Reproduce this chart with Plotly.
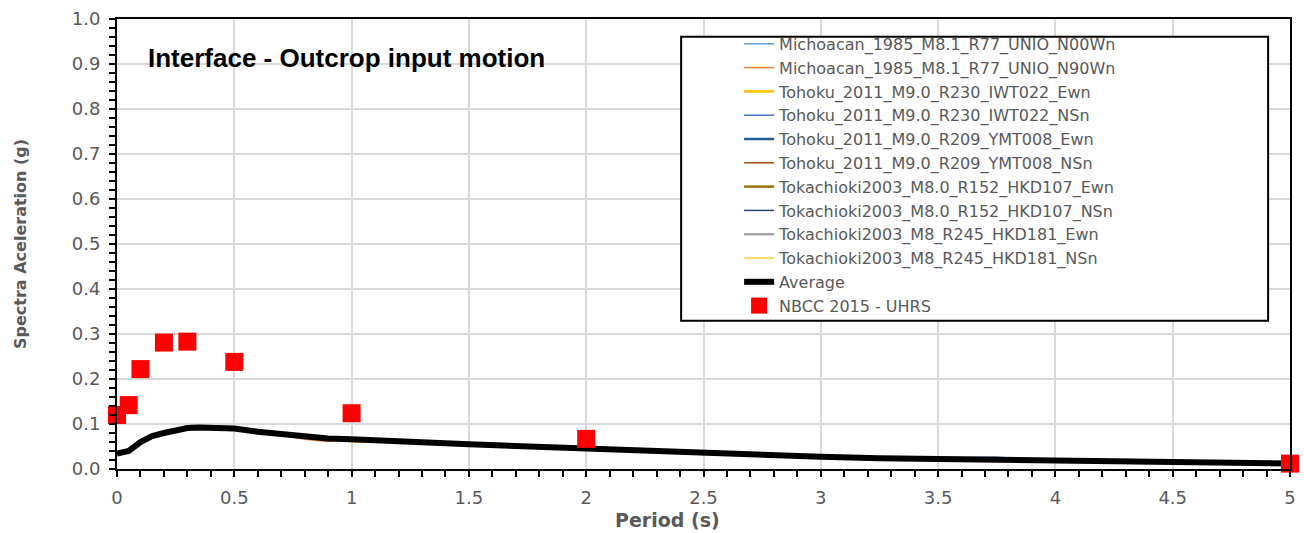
import plotly.graph_objects as go

period = [0, 0.05, 0.1, 0.15, 0.2, 0.25, 0.3, 0.35, 0.4, 0.45, 0.5, 0.6, 0.7, 0.8, 0.9,
          1.0, 1.1, 1.2, 1.3, 1.4, 1.5, 1.75, 2.0, 2.25, 2.5, 2.75, 3.0, 3.25, 3.5, 3.75,
          4.0, 4.25, 4.5, 4.75, 5.0]

mich_n00 = [0.034, 0.041, 0.061, 0.074, 0.080, 0.087, 0.092, 0.093, 0.091, 0.092, 0.090, 0.082, 0.078, 0.070, 0.069,
            0.066, 0.062, 0.060, 0.059, 0.056, 0.055, 0.051, 0.045, 0.042, 0.036, 0.033, 0.027, 0.025, 0.022, 0.021,
            0.018, 0.017, 0.016, 0.015, 0.012]
mich_n90 = [0.034, 0.040, 0.059, 0.072, 0.081, 0.085, 0.090, 0.091, 0.089, 0.090, 0.091, 0.084, 0.076, 0.066, 0.061,
            0.066, 0.064, 0.059, 0.058, 0.058, 0.054, 0.050, 0.046, 0.043, 0.037, 0.032, 0.028, 0.024, 0.022, 0.020,
            0.018, 0.017, 0.016, 0.015, 0.012]
toh_iwt_ew = [0.034, 0.040, 0.060, 0.073, 0.079, 0.086, 0.091, 0.092, 0.092, 0.091, 0.089, 0.080, 0.077, 0.072, 0.069,
              0.061, 0.060, 0.060, 0.057, 0.057, 0.054, 0.051, 0.044, 0.042, 0.033, 0.033, 0.027, 0.024, 0.022, 0.021,
              0.018, 0.017, 0.016, 0.015, 0.012]
toh_iwt_ns = [0.034, 0.040, 0.060, 0.073, 0.080, 0.086, 0.092, 0.093, 0.091, 0.091, 0.090, 0.083, 0.077, 0.071, 0.067,
              0.065, 0.063, 0.060, 0.058, 0.057, 0.055, 0.050, 0.046, 0.042, 0.037, 0.033, 0.027, 0.024, 0.023, 0.021,
              0.018, 0.017, 0.016, 0.015, 0.012]
toh_ymt_ew = [0.034, 0.040, 0.060, 0.073, 0.080, 0.087, 0.091, 0.092, 0.090, 0.091, 0.090, 0.083, 0.077, 0.071, 0.068,
              0.066, 0.063, 0.060, 0.058, 0.057, 0.055, 0.050, 0.046, 0.042, 0.037, 0.033, 0.027, 0.024, 0.024, 0.025,
              0.018, 0.017, 0.016, 0.015, 0.012]
toh_ymt_ns = [0.034, 0.040, 0.060, 0.073, 0.080, 0.086, 0.091, 0.092, 0.091, 0.090, 0.090, 0.083, 0.077, 0.071, 0.068,
              0.066, 0.063, 0.060, 0.058, 0.057, 0.055, 0.050, 0.046, 0.042, 0.037, 0.033, 0.027, 0.024, 0.022, 0.021,
              0.018, 0.017, 0.016, 0.015, 0.012]
tok_107_ew = [0.034, 0.040, 0.060, 0.073, 0.080, 0.086, 0.091, 0.092, 0.091, 0.091, 0.090, 0.083, 0.077, 0.071, 0.068,
              0.066, 0.063, 0.060, 0.058, 0.057, 0.055, 0.050, 0.046, 0.042, 0.037, 0.033, 0.027, 0.024, 0.022, 0.021,
              0.018, 0.017, 0.016, 0.015, 0.012]
tok_107_ns = [0.034, 0.040, 0.060, 0.073, 0.080, 0.086, 0.091, 0.092, 0.091, 0.091, 0.090, 0.083, 0.077, 0.071, 0.068,
              0.066, 0.063, 0.060, 0.058, 0.057, 0.055, 0.050, 0.046, 0.042, 0.037, 0.033, 0.027, 0.024, 0.022, 0.021,
              0.018, 0.017, 0.016, 0.015, 0.012]
tok_181_ew = [0.034, 0.040, 0.060, 0.073, 0.080, 0.086, 0.091, 0.092, 0.091, 0.091, 0.090, 0.083, 0.077, 0.071, 0.068,
              0.066, 0.063, 0.060, 0.058, 0.057, 0.055, 0.050, 0.046, 0.042, 0.037, 0.033, 0.027, 0.024, 0.022, 0.021,
              0.018, 0.017, 0.016, 0.015, 0.012]
tok_181_ns = [0.034, 0.040, 0.060, 0.073, 0.080, 0.086, 0.091, 0.092, 0.091, 0.091, 0.090, 0.083, 0.077, 0.070, 0.068,
              0.065, 0.063, 0.060, 0.058, 0.056, 0.055, 0.050, 0.045, 0.042, 0.036, 0.033, 0.027, 0.024, 0.022, 0.021,
              0.018, 0.017, 0.016, 0.015, 0.012]
average = [0.034, 0.040, 0.060, 0.073, 0.080, 0.086, 0.091, 0.092, 0.091, 0.091, 0.090, 0.083, 0.077, 0.071, 0.068,
           0.066, 0.063, 0.060, 0.058, 0.057, 0.055, 0.050, 0.046, 0.042, 0.037, 0.033, 0.027, 0.024, 0.022, 0.021,
           0.018, 0.017, 0.016, 0.015, 0.012]

nbcc_period = [0, 0.05, 0.1, 0.2, 0.3, 0.5, 1.0, 2.0, 5.0]
nbcc_sa = [0.120, 0.142, 0.222, 0.281, 0.283, 0.238, 0.124, 0.067, 0.012]

records = [
    ("Michoacan_1985_M8.1_R77_UNIO_N00Wn", mich_n00, "#5B9BD5", 1.5),
    ("Michoacan_1985_M8.1_R77_UNIO_N90Wn", mich_n90, "#ED7D31", 1.5),
    ("Tohoku_2011_M9.0_R230_IWT022_Ewn", toh_iwt_ew, "#FFC000", 2.5),
    ("Tohoku_2011_M9.0_R230_IWT022_NSn", toh_iwt_ns, "#4472C4", 1.5),
    ("Tohoku_2011_M9.0_R209_YMT008_Ewn", toh_ymt_ew, "#255E91", 2.5),
    ("Tohoku_2011_M9.0_R209_YMT008_NSn", toh_ymt_ns, "#9E480E", 1.5),
    ("Tokachioki2003_M8.0_R152_HKD107_Ewn", tok_107_ew, "#997300", 2.5),
    ("Tokachioki2003_M8.0_R152_HKD107_NSn", tok_107_ns, "#264478", 1.5),
    ("Tokachioki2003_M8_R245_HKD181_Ewn", tok_181_ew, "#A5A5A5", 2.5),
    ("Tokachioki2003_M8_R245_HKD181_NSn", tok_181_ns, "#FFCD33", 1.5),
]

FONT = "DejaVu Sans"
GRAY = "#595959"

# plot area in pixels: x 117..1296, y 14..469
def px_x(p):
    return (p - 117) / 1179.0

def px_y(p):
    return (469 - p) / 455.0

fig = go.Figure()
for name, vals, color, w in records:
    fig.add_trace(go.Scatter(x=period, y=vals, mode="lines", name=name,
                             line=dict(color=color, width=w)))
fig.add_trace(go.Scatter(x=period, y=average, mode="lines", name="Average",
                         line=dict(color="black", width=6)))
fig.add_trace(go.Scatter(x=nbcc_period, y=nbcc_sa, mode="markers", name="NBCC 2015 - UHRS",
                         marker=dict(symbol="square", size=18, color="#FF0000"),
                         cliponaxis=False))

fig.update_layout(
    width=1304, height=533,
    margin=dict(l=117, r=8, t=14, b=64),
    paper_bgcolor="white", plot_bgcolor="white",
    font=dict(family=FONT, color=GRAY, size=17),
    showlegend=True,
    legend=dict(x=px_x(684), y=px_y(22), xanchor="left", yanchor="top",
                bgcolor="rgba(0,0,0,0)", borderwidth=0,
                font=dict(family=FONT, size=16, color=GRAY),
                indentation=58, tracegroupgap=0),
    shapes=[dict(type="rect", xref="paper", yref="paper",
                 x0=px_x(684), x1=px_x(1274), y0=px_y(319), y1=px_y(32),
                 line=dict(color="black", width=2), fillcolor="white", layer="above")],
    annotations=[
        dict(text="<b>Interface - Outcrop input motion</b>",
             xref="paper", yref="paper", x=px_x(146), y=px_y(53),
             xanchor="left", yanchor="middle", showarrow=False,
             font=dict(family="Liberation Sans", size=26, color="black")),
        dict(text="<b>Period (s)</b>", xref="paper", yref="paper",
             x=px_x(670), y=px_y(521), xanchor="center", yanchor="middle",
             showarrow=False, font=dict(family=FONT, size=19, color=GRAY)),
        dict(text="<b>Spectra Aceleration (g)</b>", xref="paper", yref="paper",
             x=px_x(20), y=px_y(241), xanchor="center", yanchor="middle", textangle=-90,
             showarrow=False, font=dict(family=FONT, size=16, color=GRAY)),
    ],
)
fig.update_xaxes(range=[0, 5], dtick=0.5, tick0=0,
                 showgrid=True, gridcolor="#D9D9D9", gridwidth=1.5,
                 showline=True, linecolor="black", linewidth=2, mirror=True,
                 ticks="outside", ticklen=6, tickcolor="black", tickwidth=1.5,
                 minor=dict(dtick=0.1, ticks="outside", ticklen=6, tickcolor="black", tickwidth=1.5, showgrid=False),
                 zeroline=False, ticklabelstandoff=5,
                 tickfont=dict(family=FONT, size=18, color=GRAY))
fig.update_yaxes(range=[0, 1.0], dtick=0.1, tick0=0, tickformat=".1f",
                 showgrid=True, gridcolor="#D9D9D9", gridwidth=1.5,
                 showline=True, linecolor="black", linewidth=2, mirror=True,
                 ticks="outside", ticklen=6, tickcolor="black", tickwidth=1.5,
                 minor=dict(dtick=0.02, ticks="outside", ticklen=6, tickcolor="black", tickwidth=1.5, showgrid=False),
                 zeroline=False, ticklabelstandoff=5,
                 tickfont=dict(family=FONT, size=18, color=GRAY))

fig.write_html("out.html")
